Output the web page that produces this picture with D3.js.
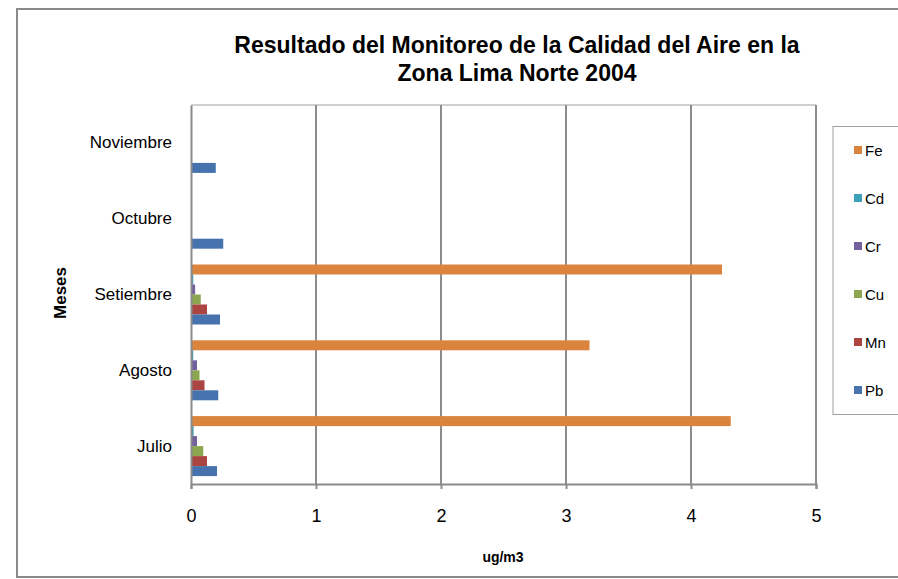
<!DOCTYPE html>
<html>
<head>
<meta charset="utf-8">
<script src="https://cdn.jsdelivr.net/npm/d3@7"></script>
<style>
  body { margin: 0; background: #fff; }
  svg { display: block; font-family: "Liberation Sans", Arial, sans-serif; }
</style>
</head>
<body>
<svg width="898" height="579"></svg>
<script>
// months (bottom to top in the chart)
var months = ["Julio", "Agosto", "Setiembre", "Octubre", "Noviembre"];
// metals, drawn top to bottom inside each month
var metals = ["Fe", "Cd", "Cr", "Cu", "Mn", "Pb"];
var colors = ["#db843d", "#3fa0b9", "#72609f", "#8ca750", "#ab4542", "#4672ae"];

// ug/m3, null = no data
var Fe = [4.31, 3.18, 4.24, null, null];
var Cd = [0.013, 0.01, 0.01, null, null];
var Cr = [0.04, 0.04, 0.025, null, null];
var Cu = [0.09, 0.06, 0.07, null, null];
var Mn = [0.12, 0.10, 0.12, null, null];
var Pb = [0.20, 0.21, 0.224, 0.25, 0.19];
var xTicks = [0, 1, 2, 3, 4, 5];

var series = { Fe: Fe, Cd: Cd, Cr: Cr, Cu: Cu, Mn: Mn, Pb: Pb };

var svg = d3.select("svg");
var plotL = 191, plotR = 816, plotT = 105, plotB = 484;

// outer frame
svg.append("rect")
  .attr("x", 17).attr("y", 9)
  .attr("width", 900).attr("height", 568)
  .attr("fill", "none").attr("stroke", "#8a8a8a").attr("stroke-width", 2);

var x = d3.scaleLinear().domain([0, 5]).range([plotL, plotR]);
var y0 = d3.scaleBand().domain(months.slice().reverse()).range([plotT, plotB]).padding(0);
var gap = 7.9;
var y1 = d3.scaleBand().domain(metals).range([gap, y0.bandwidth() - gap]).padding(0);

// plot top border
svg.append("line")
  .attr("x1", plotL).attr("x2", plotR).attr("y1", plotT).attr("y2", plotT)
  .attr("stroke", "#a0a0a0").attr("stroke-width", 1);

// vertical gridlines
svg.append("g").selectAll("line")
  .data(xTicks.slice(1))
  .enter().append("line")
  .attr("x1", function(d) { return x(d); })
  .attr("x2", function(d) { return x(d); })
  .attr("y1", plotT).attr("y2", plotB)
  .attr("stroke", "#8c8c8c").attr("stroke-width", 2);

// bars
var groups = svg.append("g").selectAll("g")
  .data(months)
  .enter().append("g")
  .attr("transform", function(m) { return "translate(0," + y0(m) + ")"; });

groups.selectAll("rect")
  .data(function(m, i) {
    return metals.map(function(k, j) { return { key: k, v: series[k][i], c: colors[j] }; })
      .filter(function(d) { return d.v != null; });
  })
  .enter().append("rect")
  .attr("x", x(0) + 1)
  .attr("y", function(d) { return y1(d.key); })
  .attr("height", y1.bandwidth())
  .attr("width", function(d) { return x(d.v) - x(0); })
  .attr("fill", function(d) { return d.c; });

// x axis
var xAxis = svg.append("g")
  .attr("transform", "translate(0," + plotB + ")")
  .call(d3.axisBottom(x).tickValues(xTicks).tickSize(5).tickPadding(20).tickFormat(d3.format("d")));
xAxis.select(".domain").attr("stroke", "#8a8a8a").attr("stroke-width", 2);
xAxis.selectAll(".tick line").attr("stroke", "#8a8a8a").attr("stroke-width", 2);
xAxis.selectAll("text").attr("font-size", 18).attr("fill", "#000")
  .attr("font-family", "Liberation Sans, Arial, sans-serif");

// y axis
var yAxis = svg.append("g")
  .attr("transform", "translate(" + plotL + ",0)")
  .call(d3.axisLeft(y0).tickSize(0).tickPadding(19));
yAxis.select(".domain").attr("stroke", "#8a8a8a").attr("stroke-width", 2);
yAxis.selectAll("text").attr("font-size", 17).attr("fill", "#000")
  .attr("font-family", "Liberation Sans, Arial, sans-serif");

// title
var title = svg.append("text")
  .attr("text-anchor", "middle")
  .attr("font-weight", "bold").attr("font-size", 23);
title.append("tspan").attr("x", 517).attr("y", 53)
  .text("Resultado del Monitoreo de la Calidad del Aire en la");
title.append("tspan").attr("x", 517).attr("y", 81)
  .text("Zona Lima Norte 2004");

// axis titles
svg.append("text")
  .attr("x", 503).attr("y", 562)
  .attr("text-anchor", "middle").attr("font-weight", "bold").attr("font-size", 14)
  .text("ug/m3");
svg.append("text")
  .attr("transform", "translate(66,293) rotate(-90)")
  .attr("text-anchor", "middle").attr("font-weight", "bold").attr("font-size", 17)
  .text("Meses");

// legend
var legend = svg.append("g");
legend.append("rect")
  .attr("x", 833).attr("y", 126.5)
  .attr("width", 80).attr("height", 288)
  .attr("fill", "#fff").attr("stroke", "#a0a0a0").attr("stroke-width", 1);
var item = legend.selectAll("g.item")
  .data(metals)
  .enter().append("g")
  .attr("class", "item")
  .attr("transform", function(d, i) { return "translate(854," + (150 + i * 48) + ")"; });
item.append("rect")
  .attr("x", 0).attr("y", -4)
  .attr("width", 8).attr("height", 8)
  .attr("fill", function(d, i) { return colors[i]; });
item.append("text")
  .attr("x", 11).attr("y", 5.5)
  .attr("font-size", 15)
  .text(function(d) { return d; });
</script>
</body>
</html>
